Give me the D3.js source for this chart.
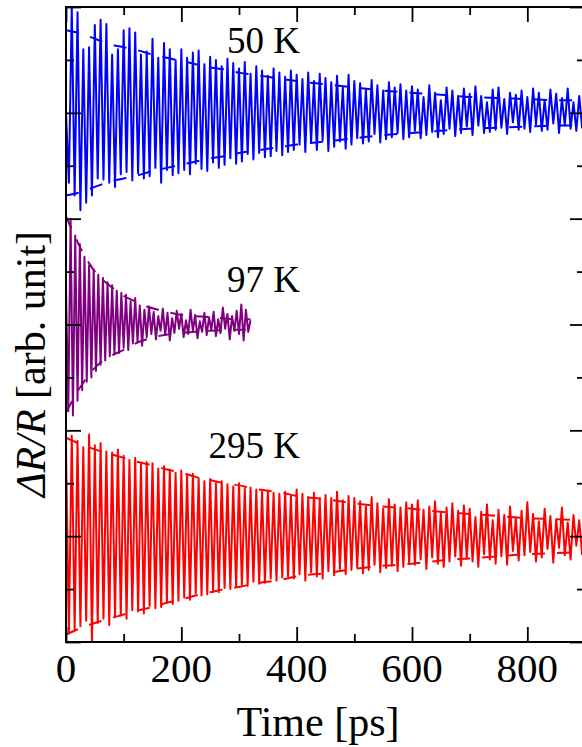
<!DOCTYPE html>
<html><head><meta charset="utf-8">
<script src="https://cdn.jsdelivr.net/npm/d3@7"></script>
<style>body{margin:0;background:#fff}</style>
</head><body>
<svg id="chart" width="582" height="747"></svg>
<script>
// ---------- data ----------
const timeTicksMajor = [0, 200, 400, 600, 800];
const timeTicksMinor = [100, 300, 500, 700];
const yTicksMajor = [0, 100, 200, 300, 400, 500, 600];
const yTicksMinor = [50, 150, 250, 350, 450, 550];
const panelNames = ["50 K", "97 K", "295 K"];
const panelBaselines = [500, 300, 100];   // zero level of each trace (arb. unit)

const dt50K = 5, dt97K = 4, dt295K = 5;   // sampling step (ps)

const signal50K = [
  0, -66, 100, -78, 95, -92, 60, -85, 62, -78, 83, -62, 88, -63, 84, -66, 55, -70, 60, -58,
  78, -56, 80, -64, 76, -57, 55, -62, 58, -60, 70, -52, 52, -66, 66, -54, 60, -59, 50, -57,
  60, -54, 52, -58, 57, -48, 59, -53, 46, -55, 53, -47, 50, -52, 44, -49, 51, -43, 47, -48,
  42, -46, 48, -39, 37, -44, 44, -38, 40, -42, 35, -41, 42, -36, 38, -40, 34, -37, 40, -35,
  36, -30, 32, -37, 38, -28, 30, -35, 37, -26, 33, -36, 29, -32, 35, -27, 24, -34, 36, -30,
  30, -24, 28, -29, 22, -27, 31, -20, 26, -28, 21, -25, 29, -23, 24, -19, 27, -25, 21, -23,
  25, -17, 22, -24, 15, -21, 26, -18, 19, -23, 12, -20, 24, -15, 21, -22, 16, -19, 23, -13,
  18, -21, 25, -12, 16, -19, 10, -18, 22, -16, 24, -14, 13, -20, 19, -9, 17, -16, 21, -15,
  15, -18, 23, -11, 19, -17, 12, -16, 22, -10, 18, -19, 14, -12, 23, -15, 10, -17, 16, -14, 5
];
const signal97K = [
  35, -82, 100, -86, 84, -72, 76, -62, 64, -54,
  56, -50, 52, -44, 47, -38, 44, -34, 40, -30,
  37, -28, 32, -27, 30, -22, 28, -24, 22, -18,
  25, -16, 18, -20, 14, -12, 17, -9, 12, -14,
  8, -6, 15, -10, 11, -15, 6, -8, 13, -4,
  10, -12, 4, -9, 14, -6, 9, -13, 3, -7,
  11, -10, 7, -5, 12, -11, 5, -8, 16, -4,
  10, -14, 8, -6, 13, -9, 19, -15, 14, -7, 4
];
const signal295K = [
  83, -92, 95, -88, 90, -85, 84, -80, 96, -100, 86, -82, 88, -78, 80, -84, 79, -76, 82, -75,
  76, -78, 72, -70, 74, -71, 68, -73, 70, -66, 69, -68, 64, -67, 66, -62, 63, -64, 60, -61,
  62, -58, 57, -60, 59, -54, 55, -56, 52, -55, 54, -51, 50, -53, 52, -49, 49, -50, 47, -48,
  50, -46, 45, -47, 46, -43, 44, -45, 42, -44, 43, -40, 41, -42, 40, -39, 42, -38, 38, -40,
  44, -36, 40, -42, 37, -34, 41, -38, 35, -40, 39, -33, 36, -37, 42, -31, 34, -36, 38, -32,
  36, -30, 33, -35, 28, -32, 37, -27, 31, -34, 26, -30, 35, -28, 30, -33, 27, -29, 32, -25,
  30, -27, 34, -22, 25, -31, 28, -20, 33, -26, 22, -29, 27, -24, 31, -19, 24, -28, 29, -21,
  26, -24, 18, -29, 23, -17, 30, -22, 15, -26, 25, -19, 20, -27, 28, -14, 17, -23, 24, -18,
  32, -15, 21, -24, 14, -20, 26, -12, 19, -25, 16, -11, 27, -18, 13, -22, 20, -9, 15, -17, 6
];

// decay envelopes (dashed)
const envTimes = [0, 25, 50, 75, 100, 125, 150, 175, 200, 225, 250, 275, 300, 325, 350, 375, 400,
                  450, 500, 550, 600, 650, 700, 750, 800, 850, 900];
const env50K  = [78, 75, 70, 65, 62, 59, 55, 52, 49, 46, 43, 41, 38, 36, 34, 32, 30,
                 27, 24, 21, 19, 17, 15, 14, 13, 12, 12];
const env295K = [93, 87, 82, 78, 74, 70, 67, 63, 60, 56, 53, 50, 48, 45, 43, 41, 38,
                 35, 31, 28, 26, 23, 21, 19, 17, 16, 15];
const env97KTimes = [0, 10, 20, 30, 40, 50, 60, 80, 100, 120, 140, 160, 200, 250, 300, 320];
const env97KUpper = [102, 90, 78, 67, 58, 50, 44, 35, 27, 22, 17, 14, 9, 7, 5, 5];
const env97KLower = [83, 73, 63, 55, 47, 41, 36, 29, 24, 18, 14, 11, 8, 6, 5, 5];

// ---------- drawing ----------
const svg = d3.select("#chart");
const FONT = "'Liberation Serif','Times New Roman',serif";
const x = d3.scaleLinear().domain([0, 900]).range([66, 585]);
const y = d3.scaleLinear().domain([0, 600]).range([642, 7]);

svg.append("defs").append("clipPath").attr("id", "plotclip")
  .append("rect").attr("x", x(0)).attr("y", y(600))
  .attr("width", x(900) - x(0)).attr("height", y(0) - y(600));

const plot = svg.append("g").attr("clip-path", "url(#plotclip)");

const series = [
  {vals: signal50K, dt: dt50K, base: panelBaselines[0], color: "#0000ff",
   up: envTimes.map((t, i) => ({t, v: env50K[i]})), lo: envTimes.map((t, i) => ({t, v: env50K[i]}))},
  {vals: signal97K, dt: dt97K, base: panelBaselines[1], color: "#800080",
   up: env97KTimes.map((t, i) => ({t, v: env97KUpper[i]})), lo: env97KTimes.map((t, i) => ({t, v: env97KLower[i]}))},
  {vals: signal295K, dt: dt295K, base: panelBaselines[2], color: "#ff0000",
   up: envTimes.map((t, i) => ({t, v: env295K[i]})), lo: envTimes.map((t, i) => ({t, v: env295K[i]}))}
];

series.forEach(s => {
  const pts = s.vals.map((v, i) => ({t: i * s.dt, v: v}));
  const sigLine = d3.line().x(d => x(d.t)).y(d => y(s.base + d.v));
  const upLine = d3.line().curve(d3.curveMonotoneX).x(d => x(d.t)).y(d => y(s.base + d.v));
  const loLine = d3.line().curve(d3.curveMonotoneX).x(d => x(d.t)).y(d => y(s.base - d.v));
  plot.append("path").attr("d", upLine(s.up)).attr("fill", "none")
    .attr("stroke", s.color).attr("stroke-width", 2).attr("stroke-dasharray", "13,12");
  plot.append("path").attr("d", loLine(s.lo)).attr("fill", "none")
    .attr("stroke", s.color).attr("stroke-width", 2).attr("stroke-dasharray", "13,12");
  plot.append("path").attr("d", sigLine(pts)).attr("fill", "none")
    .attr("stroke", s.color).attr("stroke-width", 2).attr("stroke-linejoin", "round");
});

// axes (inward ticks, mirrored)
function styleAxis(g) {
  g.select(".domain").remove();
  g.selectAll(".tick line").attr("stroke", "#000").attr("stroke-width", 1.8);
  g.selectAll(".tick text").remove();
}
svg.append("g").attr("transform", `translate(0,${y(0)})`)
  .call(d3.axisBottom(x).tickValues(timeTicksMajor).tickSizeInner(-15).tickSizeOuter(0)).call(styleAxis);
svg.append("g").attr("transform", `translate(0,${y(0)})`)
  .call(d3.axisBottom(x).tickValues(timeTicksMinor).tickSizeInner(-8).tickSizeOuter(0)).call(styleAxis);
svg.append("g").attr("transform", `translate(0,${y(600)})`)
  .call(d3.axisTop(x).tickValues(timeTicksMajor).tickSizeInner(-15).tickSizeOuter(0)).call(styleAxis);
svg.append("g").attr("transform", `translate(0,${y(600)})`)
  .call(d3.axisTop(x).tickValues(timeTicksMinor).tickSizeInner(-8).tickSizeOuter(0)).call(styleAxis);
svg.append("g").attr("transform", `translate(${x(0)},0)`)
  .call(d3.axisLeft(y).tickValues(yTicksMajor).tickSizeInner(-15).tickSizeOuter(0)).call(styleAxis);
svg.append("g").attr("transform", `translate(${x(0)},0)`)
  .call(d3.axisLeft(y).tickValues(yTicksMinor).tickSizeInner(-8).tickSizeOuter(0)).call(styleAxis);
svg.append("g").attr("transform", `translate(${x(900)},0)`)
  .call(d3.axisRight(y).tickValues(yTicksMajor).tickSizeInner(-15).tickSizeOuter(0)).call(styleAxis);
svg.append("g").attr("transform", `translate(${x(900)},0)`)
  .call(d3.axisRight(y).tickValues(yTicksMinor).tickSizeInner(-8).tickSizeOuter(0)).call(styleAxis);

// frame
svg.append("rect").attr("x", x(0)).attr("y", y(600))
  .attr("width", x(900) - x(0)).attr("height", y(0) - y(600))
  .attr("fill", "none").attr("stroke", "#000").attr("stroke-width", 2);

// tick labels
svg.append("g").selectAll("text").data(timeTicksMajor).join("text")
  .attr("x", d => x(d)).attr("y", 682).attr("text-anchor", "middle")
  .style("font-family", FONT).style("font-size", "41px").text(d => d);

// axis titles
svg.append("text").attr("x", 318).attr("y", 736).attr("text-anchor", "middle")
  .style("font-family", FONT).style("font-size", "42px").text("Time [ps]");
const yt = svg.append("text").attr("transform", "translate(45,364) rotate(-90)")
  .attr("text-anchor", "middle").style("font-family", FONT).style("font-size", "42px");
yt.append("tspan").style("font-style", "italic").text("ΔR/R");
yt.append("tspan").text(" [arb. unit]");

// temperature labels
const labelY = [53, 292, 458];
panelNames.forEach((n, i) => {
  svg.append("text").attr("x", 300).attr("y", labelY[i]).attr("text-anchor", "end")
    .style("font-family", FONT).style("font-size", "37px").text(n);
});
</script>
</body></html>
